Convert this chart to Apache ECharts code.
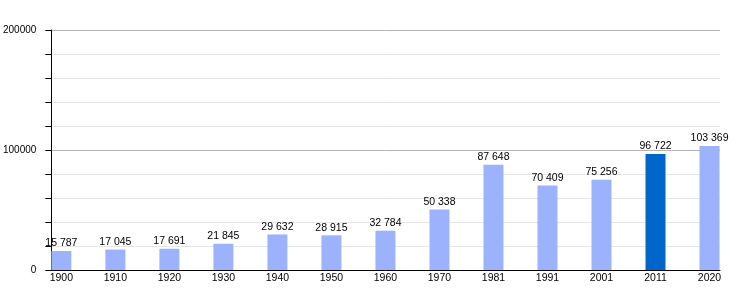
<!DOCTYPE html>
<html>
<head>
<meta charset="utf-8">
<script src="https://cdn.jsdelivr.net/npm/echarts@6/dist/echarts.min.js"></script>
<style>
  html, body { margin: 0; padding: 0; background: #fff; }
  #chart { width: 750px; height: 300px; }
</style>
</head>
<body>
<div id="chart"></div>
<script>
// 年份与人口数据
const years = ['1900', '1910', '1920', '1930', '1940', '1950', '1960', '1970', '1981', '1991', '2001', '2011', '2020']
const population = [15787, 17045, 17691, 21845, 29632, 28915, 32784, 50338, 87648, 70409, 75256, 96722, 103369]
const highlightYear = '2011'
const yTicks = [0, 100000, 200000]

const LIGHT = '#9db2fc'
const DARK = '#0066cc'

// 千位用空格分隔
function fmt(v) {
  return String(v).replace(/\B(?=(\d{3})+(?!\d))/g, ' ')
}

const chart = echarts.init(document.getElementById('chart'))

chart.setOption({
  animation: false,
  textStyle: { fontFamily: 'Liberation Sans, Arial, sans-serif' },
  grid: { left: 51, right: 30, top: 30, bottom: 30 },
  xAxis: {
    type: 'value',
    min: -0.185,
    max: 12.194,
    splitLine: { show: false },
    axisLine: { show: true, onZero: false, lineStyle: { color: '#000', width: 1 } },
    axisTick: { show: false },
    axisLabel: {
      customValues: years.map((_, i) => i),
      formatter: (v) => years[Math.round(v)] || '',
      color: '#000',
      fontSize: 10.5,
      margin: 3
    }
  },
  yAxis: {
    type: 'value',
    min: 0,
    max: 200000,
    interval: 20000,
    axisLine: { show: true, onZero: false, lineStyle: { color: '#000', width: 1 } },
    axisTick: { show: true, length: 6, lineStyle: { color: '#000' } },
    axisLabel: {
      color: '#000',
      fontSize: 10,
      margin: 15,
      formatter: (v) => (yTicks.includes(v) ? String(v) : '')
    },
    splitLine: {
      show: true,
      lineStyle: { color: ['#b3b3b3', '#e6e6e6', '#e6e6e6', '#e6e6e6', '#e6e6e6'], width: 1 }
    }
  },
  series: [{
    type: 'bar',
    barWidth: 20,
    data: population.map((v, i) => ({
      value: [i, v],
      itemStyle: { color: years[i] === highlightYear ? DARK : LIGHT }
    })),
    label: {
      show: true,
      position: 'top',
      distance: 2,
      color: '#000',
      fontSize: 10.5,
      formatter: (p) => fmt(p.value[1])
    }
  }]
})
</script>
</body>
</html>
